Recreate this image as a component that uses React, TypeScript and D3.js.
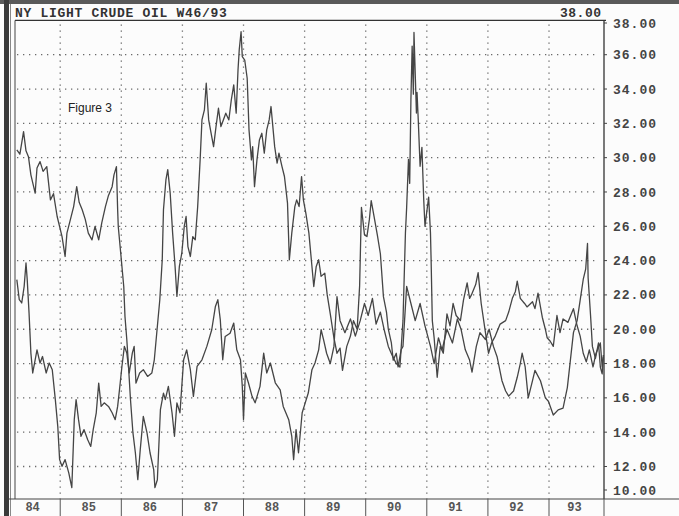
import React from "react";
import * as d3 from "d3";

// ---- data (decimal year, price) ----
const seriesA: [number, number][] = [
  [1984.29, 30.46], [1984.34, 30.2], [1984.40, 31.52], [1984.44, 30.4], [1984.48, 30.06], [1984.52, 29.0],
  [1984.59, 27.93], [1984.62, 29.4], [1984.67, 29.77], [1984.72, 29.2], [1984.78, 29.48], [1984.84, 27.54],
  [1984.89, 27.9], [1984.95, 26.57], [1985.03, 25.4], [1985.08, 24.24], [1985.11, 25.6], [1985.16, 26.3],
  [1985.22, 27.15], [1985.27, 28.31], [1985.31, 27.4], [1985.36, 26.96], [1985.41, 26.4], [1985.46, 25.6],
  [1985.52, 25.21], [1985.57, 25.99], [1985.63, 25.21], [1985.68, 26.2], [1985.74, 27.15], [1985.79, 27.8],
  [1985.85, 28.31], [1985.88, 29.0], [1985.92, 29.48], [1985.94, 26.96], [1985.95, 25.99], [1985.99, 24.45],
  [1986.04, 22.49], [1986.06, 20.74], [1986.09, 19.39], [1986.11, 18.3], [1986.15, 15.9], [1986.19, 13.97],
  [1986.23, 12.8], [1986.27, 11.23], [1986.31, 12.98], [1986.36, 14.92], [1986.42, 13.97], [1986.47, 12.8],
  [1986.53, 11.82], [1986.55, 10.77], [1986.59, 11.23], [1986.64, 15.31], [1986.69, 16.28], [1986.72, 15.9],
  [1986.77, 16.67], [1986.83, 15.13], [1986.87, 13.76], [1986.91, 15.71], [1986.96, 15.13], [1987.02, 18.22],
  [1987.07, 18.8], [1987.13, 17.64], [1987.18, 16.09], [1987.24, 17.83], [1987.32, 18.22], [1987.40, 19.0],
  [1987.48, 19.97], [1987.54, 21.33], [1987.58, 21.72], [1987.62, 20.55], [1987.66, 18.22], [1987.70, 19.58],
  [1987.78, 19.77], [1987.84, 20.36], [1987.89, 18.8], [1987.95, 18.22], [1987.98, 16.67], [1988.00, 14.73],
  [1988.03, 17.45], [1988.08, 16.88], [1988.14, 16.09], [1988.19, 15.71], [1988.27, 16.67], [1988.33, 18.61],
  [1988.38, 17.45], [1988.44, 18.03], [1988.52, 16.88], [1988.60, 16.47], [1988.65, 15.5], [1988.74, 14.73],
  [1988.79, 13.76], [1988.82, 12.4], [1988.86, 14.15], [1988.90, 12.8], [1988.96, 15.13], [1989.01, 15.71],
  [1989.06, 16.28], [1989.12, 17.64], [1989.17, 18.03], [1989.23, 18.8], [1989.27, 19.97], [1989.31, 19.39],
  [1989.36, 18.6], [1989.42, 18.0], [1989.48, 19.0], [1989.53, 21.9], [1989.58, 20.5], [1989.66, 19.8],
  [1989.75, 20.6], [1989.83, 19.6], [1989.91, 20.5], [1989.98, 21.5], [1990.04, 20.8], [1990.11, 21.8],
  [1990.17, 20.3], [1990.24, 21.0], [1990.30, 20.0], [1990.37, 19.0], [1990.43, 18.5], [1990.50, 18.0],
  [1990.56, 17.8], [1990.61, 20.5], [1990.65, 25.6], [1990.67, 27.1], [1990.70, 29.9], [1990.72, 28.5],
  [1990.74, 33.4], [1990.76, 36.5], [1990.78, 33.7], [1990.79, 37.3], [1990.83, 32.6], [1990.84, 33.8],
  [1990.86, 32.2], [1990.89, 29.5], [1990.92, 30.6], [1990.95, 27.5], [1990.97, 26.0], [1991.03, 27.7],
  [1991.06, 25.6], [1991.07, 24.1], [1991.09, 20.5], [1991.12, 19.5], [1991.17, 17.2], [1991.22, 19.0],
  [1991.27, 18.6], [1991.33, 20.9], [1991.38, 20.2], [1991.43, 21.5], [1991.48, 20.8], [1991.55, 20.5],
  [1991.60, 21.7], [1991.66, 22.7], [1991.70, 21.8], [1991.73, 22.0], [1991.80, 22.6], [1991.84, 23.3],
  [1991.89, 21.5], [1991.96, 19.8], [1992.01, 18.6], [1992.06, 19.2], [1992.12, 19.6], [1992.20, 20.3],
  [1992.29, 20.5], [1992.34, 21.0], [1992.40, 21.8], [1992.45, 22.2], [1992.48, 22.8], [1992.53, 21.8],
  [1992.60, 21.5], [1992.64, 21.3], [1992.73, 21.6], [1992.77, 21.2], [1992.82, 22.1], [1992.89, 20.7],
  [1992.94, 20.0], [1992.97, 19.5], [1993.02, 19.3], [1993.07, 19.0], [1993.13, 20.8], [1993.18, 19.8],
  [1993.23, 20.6], [1993.31, 20.4], [1993.40, 21.2], [1993.46, 20.2], [1993.51, 19.6], [1993.56, 18.6],
  [1993.61, 18.1], [1993.66, 18.8], [1993.72, 17.8], [1993.77, 18.6], [1993.84, 19.2], [1993.87, 17.8],
  [1993.89, 18.5],
];

const seriesB: [number, number][] = [
  [1984.29, 22.89], [1984.33, 21.72], [1984.37, 21.53], [1984.41, 22.5], [1984.44, 23.86], [1984.46, 22.89],
  [1984.49, 20.94], [1984.52, 18.61], [1984.55, 17.45], [1984.59, 18.22], [1984.62, 18.8], [1984.67, 18.03],
  [1984.71, 18.41], [1984.77, 17.45], [1984.82, 18.03], [1984.87, 17.64], [1984.92, 15.9], [1984.96, 14.34],
  [1984.99, 12.4], [1985.03, 12.01], [1985.08, 12.4], [1985.14, 11.63], [1985.19, 10.77], [1985.23, 14.73],
  [1985.26, 15.9], [1985.30, 14.73], [1985.34, 13.76], [1985.39, 14.15], [1985.45, 13.56], [1985.50, 13.17],
  [1985.54, 14.15], [1985.59, 15.13], [1985.63, 16.86], [1985.67, 15.5], [1985.72, 15.71], [1985.79, 15.5],
  [1985.85, 15.13], [1985.90, 14.73], [1985.94, 15.5], [1985.97, 16.47], [1986.01, 17.83], [1986.05, 19.0],
  [1986.09, 18.61], [1986.13, 17.45], [1986.18, 18.61], [1986.21, 19.0], [1986.24, 16.86], [1986.30, 17.45],
  [1986.36, 17.64], [1986.43, 17.25], [1986.50, 17.45], [1986.54, 18.22], [1986.58, 19.78], [1986.63, 21.72],
  [1986.67, 24.05], [1986.69, 26.96], [1986.73, 28.7], [1986.76, 29.3], [1986.80, 27.93], [1986.84, 25.6],
  [1986.88, 23.66], [1986.91, 21.91], [1986.95, 23.66], [1986.99, 24.43], [1987.03, 25.99], [1987.06, 26.57],
  [1987.09, 24.82], [1987.13, 24.24], [1987.17, 25.4], [1987.21, 25.21], [1987.25, 27.15], [1987.29, 29.87],
  [1987.32, 32.2], [1987.36, 32.78], [1987.39, 34.34], [1987.43, 32.2], [1987.47, 31.42], [1987.51, 30.64],
  [1987.55, 31.81], [1987.59, 32.88], [1987.63, 31.81], [1987.67, 32.2], [1987.71, 32.59], [1987.76, 32.2],
  [1987.80, 33.36], [1987.84, 34.24], [1987.88, 32.59], [1987.91, 35.11], [1987.93, 36.28], [1987.96, 37.34],
  [1987.98, 35.89], [1988.02, 35.69], [1988.06, 34.63], [1988.09, 31.62], [1988.13, 29.87], [1988.15, 30.64],
  [1988.18, 28.31], [1988.22, 29.87], [1988.26, 31.03], [1988.30, 31.42], [1988.34, 30.26], [1988.38, 31.62],
  [1988.42, 32.2], [1988.45, 32.98], [1988.47, 32.2], [1988.51, 30.64], [1988.55, 29.68], [1988.58, 30.26],
  [1988.63, 29.48], [1988.67, 28.9], [1988.72, 27.35], [1988.75, 24.05], [1988.79, 25.6], [1988.84, 27.15],
  [1988.87, 27.54], [1988.91, 27.15], [1988.95, 28.9], [1988.98, 27.54], [1989.02, 26.77], [1989.07, 25.6],
  [1989.11, 24.05], [1989.15, 22.49], [1989.19, 23.66], [1989.23, 24.05], [1989.27, 23.08], [1989.33, 23.27],
  [1989.37, 22.0], [1989.42, 20.9], [1989.48, 19.5], [1989.53, 18.6], [1989.58, 18.9], [1989.62, 17.6],
  [1989.69, 19.0], [1989.75, 19.6], [1989.80, 20.5], [1989.86, 20.0], [1989.90, 22.5], [1989.93, 27.1],
  [1989.98, 25.5], [1990.02, 25.4], [1990.06, 26.4], [1990.09, 27.5], [1990.14, 26.5], [1990.19, 25.5],
  [1990.24, 24.4], [1990.29, 21.9], [1990.34, 21.0], [1990.37, 20.0], [1990.42, 19.2], [1990.45, 18.2],
  [1990.50, 18.6], [1990.53, 17.8], [1990.58, 18.8], [1990.61, 19.0], [1990.67, 22.5], [1990.74, 21.5],
  [1990.81, 20.5], [1990.89, 21.5], [1990.97, 20.2], [1991.06, 19.0], [1991.12, 18.0], [1991.19, 19.5],
  [1991.25, 18.8], [1991.33, 20.0], [1991.42, 19.2], [1991.50, 20.6], [1991.56, 20.0], [1991.63, 18.8],
  [1991.70, 18.2], [1991.74, 17.5], [1991.81, 19.0], [1991.87, 19.8], [1991.96, 19.4], [1992.02, 20.0],
  [1992.09, 19.0], [1992.15, 18.4], [1992.23, 17.0], [1992.29, 16.4], [1992.34, 16.1], [1992.42, 16.4],
  [1992.48, 17.2], [1992.53, 18.0], [1992.56, 18.6], [1992.61, 17.8], [1992.66, 16.0], [1992.73, 17.0],
  [1992.77, 17.6], [1992.86, 17.0], [1992.94, 16.0], [1992.99, 15.8], [1993.07, 15.0], [1993.15, 15.3],
  [1993.23, 15.4], [1993.30, 16.6], [1993.35, 18.2], [1993.40, 19.8], [1993.46, 20.5], [1993.51, 21.7],
  [1993.56, 22.9], [1993.60, 23.5], [1993.63, 25.0], [1993.64, 23.0], [1993.68, 20.8], [1993.71, 19.0],
  [1993.76, 18.3], [1993.81, 19.2], [1993.84, 17.8], [1993.87, 17.4], [1993.89, 18.4],
];

const yTicks = [38, 36, 34, 32, 30, 28, 26, 24, 22, 20, 18, 16, 14, 12, 10];
const yearLabels = ["84", "85", "86", "87", "88", "89", "90", "91", "92", "93"];
const yearStarts = [1984, 1985, 1986, 1987, 1988, 1989, 1990, 1991, 1992, 1993];
const title = "NY LIGHT CRUDE OIL W46/93";
const lastValueLabel = "38.00";
const figureLabel = "Figure 3";

const W = 679;
const H = 516;
const L = 15, R = 604, T = 20.4, B = 499;

export default function App() {
  const x = d3.scaleLinear().domain([1984.26, 1993.9]).range([L, R]);
  const y = d3.scaleLinear().domain([10, 38]).range([500.8, T]);
  const line = d3
    .line<[number, number]>()
    .x((d) => x(d[0]))
    .y((d) => y(d[1]));

  const mono = "'Liberation Mono', 'DejaVu Sans Mono', monospace";
  const gridCol = "#6a6a6a";

  return (
    <svg
      width={W}
      height={H}
      style={{ position: "absolute", left: 0, top: 0, background: "#fcfcfc" }}
    >
      <rect x={0} y={0} width={W} height={H} fill="#fcfcfc" />
      {/* outer frame */}
      <rect x={0} y={0} width={W} height={4} fill="#5a5a5a" />
      <rect x={4} y={0} width={5} height={H} fill="#3a3a3a" />
      <line x1={10.5} x2={10.5} y1={4} y2={H} stroke="#888" strokeWidth={1} />

      {/* title */}
      <text x={L} y={17} fontFamily={mono} fontSize={13} fontWeight="bold" letterSpacing={0.7} fill="#333">
        {title}
      </text>
      <text x={560} y={17} fontFamily={mono} fontSize={13} fontWeight="bold" letterSpacing={0.5} fill="#333">
        {lastValueLabel}
      </text>

      {/* grid */}
      {yTicks
        .filter((v) => v > 10 && v < 38)
        .map((v) => (
          <line
            key={"h" + v}
            x1={L + 2}
            x2={R - 6}
            y1={y(v)}
            y2={y(v)}
            stroke={gridCol}
            strokeWidth={1.3}
            strokeDasharray="1.3,4.7"
          />
        ))}
      {yearStarts.slice(1).map((yr) => (
        <line
          key={"v" + yr}
          x1={x(yr)}
          x2={x(yr)}
          y1={T + 4}
          y2={B}
          stroke={gridCol}
          strokeWidth={1.3}
          strokeDasharray="1.3,4.7"
        />
      ))}

      {/* plot frame */}
      <line x1={L} x2={R + 2} y1={T} y2={T} stroke="#333" strokeWidth={1.2} />
      <line x1={L} x2={L} y1={T} y2={B} stroke="#444" strokeWidth={1} />
      <line x1={R} x2={R} y1={T} y2={B} stroke="#333" strokeWidth={1.3} />
      <line x1={9} x2={W} y1={B} y2={B} stroke="#444" strokeWidth={1} />

      {/* figure label */}
      <text x={68} y={112} fontFamily="'Liberation Sans', Arial, sans-serif" fontSize={12} fill="#222">
        {figureLabel}
      </text>

      {/* series */}
      <path d={line(seriesB) || ""} fill="none" stroke="#454545" strokeWidth={1.3} strokeLinejoin="round" />
      <path d={line(seriesA) || ""} fill="none" stroke="#454545" strokeWidth={1.3} strokeLinejoin="round" />

      {/* right axis */}
      {yTicks.map((v) => {
        const yy = Math.min(Math.max(y(v), 23), 490);
        return (
          <g key={"t" + v}>
            <line x1={R} x2={R + 3} y1={yy} y2={yy} stroke="#444" strokeWidth={1} />
            <text
              x={613}
              y={yy}
              dy="0.35em"
              fontFamily={mono}
              fontSize={13}
              fontWeight="bold"
              letterSpacing={1}
              fill="#444"
            >
              {v.toFixed(2)}
            </text>
          </g>
        );
      })}

      {/* year strip */}
      {yearStarts.map((yr, i) => {
        const x0 = Math.max(x(yr), 9);
        const x1 = Math.min(x(yr + 1), R);
        const cx = (x0 + x1) / 2 - 2;
        return (
          <g key={"y" + yr}>
            {i > 0 && <line x1={x(yr)} x2={x(yr)} y1={B} y2={H} stroke="#555" strokeWidth={1} />}
            <text
              x={cx}
              y={511}
              textAnchor="middle"
              fontFamily={mono}
              fontSize={12}
              fontWeight="bold"
              fill="#555"
            >
              {yearLabels[i]}
            </text>
          </g>
        );
      })}
      <line x1={R} x2={R} y1={B} y2={H} stroke="#555" strokeWidth={1} />
    </svg>
  );
}
